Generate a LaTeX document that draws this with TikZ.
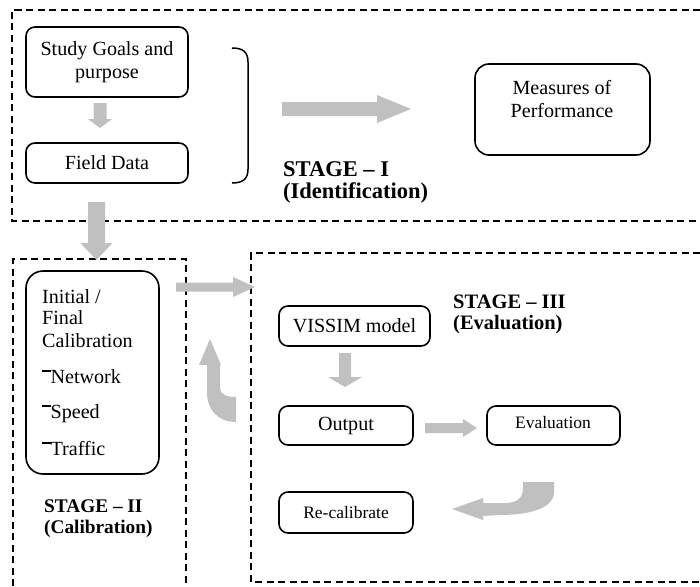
\documentclass[tikz,border=0pt]{standalone}
\usepackage{fontspec}
\setmainfont{Liberation Serif}
\definecolor{blockgray}{RGB}{192,192,192}
\newcommand\normaltext{\fontsize{20.1}{23.5}\selectfont}
\newcommand\smalltext{\fontsize{17.5}{20}\selectfont}
\newcommand\itembar{\rule[0.55em]{0.42em}{0.12em}}
% block arrows: vertical {x}{ytop}{ybase}{ytip}{half shaft}{half head}
\newcommand\blkdown[6]{\fill[blockgray] (#1-#5,#2) -- (#1+#5,#2) -- (#1+#5,#3) -- (#1+#6,#3) -- (#1,#4) -- (#1-#6,#3) -- (#1-#5,#3) -- cycle;}
% horizontal {xstart}{ycentre}{xbase}{xtip}{half shaft}{half head}
\newcommand\blkright[6]{\fill[blockgray] (#1,#2-#5) -- (#3,#2-#5) -- (#3,#2-#6) -- (#4,#2) -- (#3,#2+#6) -- (#3,#2+#5) -- (#1,#2+#5) -- cycle;}
\tikzset{
  box/.style={draw, line width=1.6pt, rounded corners=9pt, inner sep=0pt, align=center, font=\normaltext},
  frame/.style={draw, line width=1.6pt, dash pattern=on 7pt off 4.5pt},
  lbl/.style={inner sep=0pt, anchor=base west, font=\normaltext},
  stagelbl/.style={inner sep=0pt, anchor=base west, font=\fontsize{#1}{23}\selectfont\bfseries},
}
\begin{document}
\begin{tikzpicture}[x=1pt,y=-1pt]
\useasboundingbox (0,0) rectangle (700,586);

% stage frames
\draw[frame] (700,10) -- (12,10) -- (12,221) -- (700,221);
\draw[frame] (13,586) -- (13,259) -- (186,259) -- (186,586);
\draw[frame] (700,253) -- (251,253) -- (251,582) -- (700,582);

% stage I
\node[box, minimum width=162pt, minimum height=70pt] (goals) at (107,62) {Study Goals and\\purpose};
\node[box, minimum width=162pt, minimum height=40pt] (field) at (107,163) {Field Data};
\draw[line width=1.5pt] (232,48) .. controls (243,48) and (248,52) .. (248,62) -- (248,169) .. controls (248,179) and (243,183) .. (232,183);
\node[box, rounded corners=14pt, minimum width=175pt, minimum height=91pt] (mop) at (562.5,109.5) {};
\node[font=\normaltext, align=center, inner sep=0pt] (moptext) at (562,99) {Measures of\\Performance};
\node[stagelbl=22.5] (s1a) at (283,176) {STAGE -- I};
\node[stagelbl=22.5] (s1b) at (283,198) {(Identification)};

% stage II
\node[box, rounded corners=17pt, minimum width=133pt, minimum height=203pt] (calib) at (92.5,372.5) {};
\node[lbl] (c1) at (42,303) {Initial /};
\node[lbl] (c2) at (42,324) {Final};
\node[lbl] (c3) at (42,347) {Calibration};
\node[lbl] (c4) at (42,383) {\itembar Network};
\node[lbl] (c5) at (42,418) {\itembar Speed};
\node[lbl] (c6) at (42,455) {\itembar Traffic};
\node[stagelbl=19.3] (s2a) at (44,512) {STAGE -- II};
\node[stagelbl=19.3] (s2b) at (44,533) {(Calibration)};

% stage III
\node[box, minimum width=151pt, minimum height=40pt] (vissim) at (354.5,326) {VISSIM model};
\node[box, minimum width=134pt, minimum height=39pt] (output) at (346,425.5) {Output};
\node[box, minimum width=133pt, minimum height=39pt] (eval) at (553.5,425.5) {};
\node[font=\smalltext, inner sep=0pt] (evaltext) at (553,423) {Evaluation};
\node[box, minimum width=134pt, minimum height=41pt, font=\smalltext] (recal) at (346,512.5) {Re-calibrate};
\node[stagelbl=20.5] (s3a) at (453,308) {STAGE -- III};
\node[stagelbl=20.5] (s3b) at (453,329) {(Evaluation)};

% block arrows
\blkdown{100}{103}{119}{128}{6.5}{12}
\blkright{282}{109}{377}{411}{7}{14}
\blkdown{96.5}{202}{243}{260}{8.5}{16}
\blkright{176}{287}{233}{255}{4.5}{10}
\blkdown{345}{353}{377}{387}{6}{17}
\blkright{425}{428}{463}{477}{5}{9}
% curved arrow back up to stage II
\fill[blockgray] (210,339) -- (221,365) -- (220,365) -- (220,388)
  .. controls (220,394) and (226,397) .. (236,397) -- (236,422)
  .. controls (218,422) and (207,410) .. (207,392) -- (207,365) -- (199,365) -- cycle;
% curved arrow from evaluation to re-calibrate
\fill[blockgray] (452,509) -- (483,498) -- (483,503) -- (505,503)
  .. controls (518,503) and (523,497) .. (523,488) -- (523,482) -- (554,482) -- (554,492)
  .. controls (554,508) and (530,515) .. (500,515) -- (483,516) -- (483,520) -- cycle;
\end{tikzpicture}
\end{document}
